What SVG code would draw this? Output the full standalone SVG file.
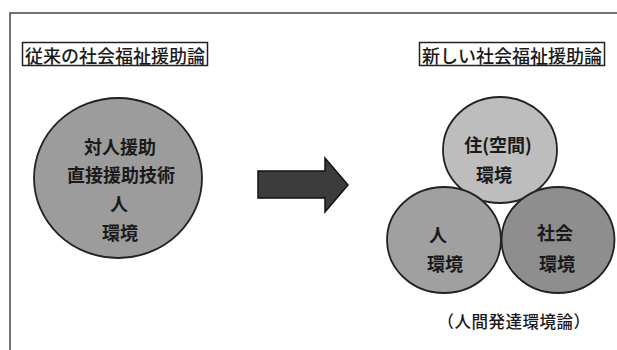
<svg xmlns="http://www.w3.org/2000/svg" width="617" height="350" viewBox="0 0 617 350">
<style>
text{font-family:"Noto Sans CJK JP","Noto Sans CJK SC",sans-serif;fill:#1a1a1a;text-anchor:middle;dominant-baseline:central}
.title{font-size:18px;font-weight:500}
.in{font-size:18px;font-weight:700}
.cap{font-size:16.5px;font-weight:500}
.box{fill:#fff;stroke:#222;stroke-width:1.5}
.circ{stroke:#222;stroke-width:1.8}
.frame{stroke:#444;stroke-width:1.5;fill:none}
</style>
<rect width="617" height="350" fill="#fff"/>
<path class="frame" d="M10,350 V13 H617"/>
<g id="title-old">
<rect class="box" x="22.5" y="42.5" width="185" height="23"/>
<text class="title" x="115" y="54.5">従来の社会福祉援助論</text>
</g>
<g id="title-new">
<rect class="box" x="419.5" y="42.5" width="185" height="23"/>
<text class="title" x="512" y="54.5">新しい社会福祉援助論</text>
</g>
<g id="old-model">
<ellipse class="circ" cx="118" cy="178" rx="84" ry="80" fill="#9c9c9c"/>
<text class="in" x="120" y="146">対人援助</text>
<text class="in" x="121" y="174">直接援助技術</text>
<text class="in" x="119" y="203">人</text>
<text class="in" x="120" y="232">環境</text>
</g>
<g id="living-space">
<ellipse class="circ" cx="500" cy="150" rx="57" ry="53" fill="#bdbdbd"/>
<text class="in" x="498" y="144">住(空間)</text>
<text class="in" x="494" y="174">環境</text>
</g>
<g id="person">
<ellipse class="circ" cx="444" cy="240" rx="57" ry="53" fill="#a0a0a0"/>
<text class="in" x="438" y="234">人</text>
<text class="in" x="445" y="263">環境</text>
</g>
<g id="society">
<ellipse class="circ" cx="558" cy="240" rx="56.5" ry="53" fill="#8e8e8e"/>
<text class="in" x="555" y="232">社会</text>
<text class="in" x="557" y="263">環境</text>
</g>
<g id="caption">
<text class="cap" x="514" y="321" letter-spacing="0.5">（人間発達環境論）</text>
</g>
<g id="connectors">
<path d="M258,171 H325 V158 L348,185 L325,212 V198 H258 Z" fill="#3c3c3c" stroke="#111" stroke-width="1.5" stroke-linejoin="miter"/>
</g>
</svg>
